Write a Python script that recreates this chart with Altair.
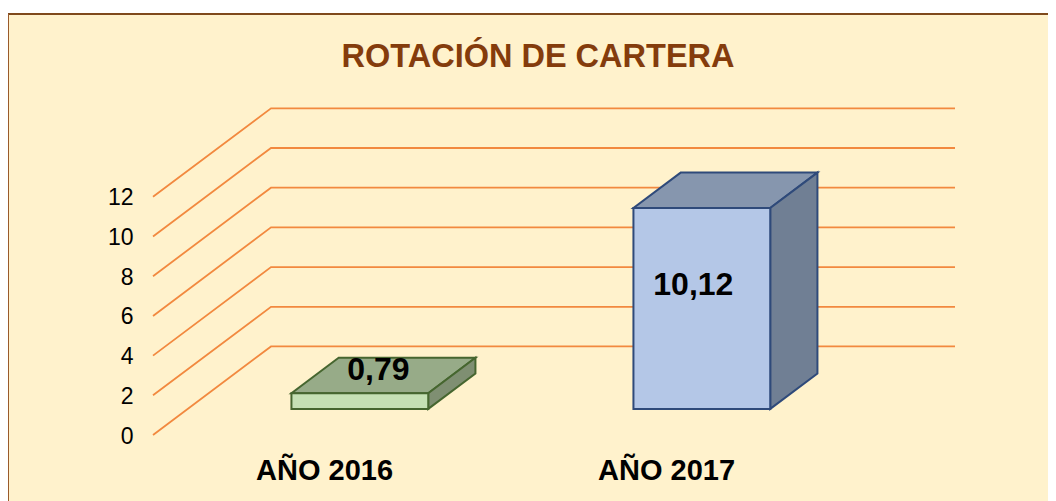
import altair as alt
import pandas as pd

# ---- chart values ----
TITLE = "ROTACIÓN DE CARTERA"
CATEGORIES = ["AÑO 2016", "AÑO 2017"]
VALUES = [0.79, 10.12]
VALUE_LABELS = ["0,79", "10,12"]
GRID_VALUES = [0, 2, 4, 6, 8, 10, 12]

# ---- pseudo-3D projection (category units, value units) ----
W, H = 1040, 487
X_MIN = -0.424
X_DOMAIN = [X_MIN, X_MIN + W / 342]
Y_DOMAIN = [-3.325, 21.21]
DEPTH_X = 0.345      # full floor depth in category units
DEPTH_Y = 4.46       # full floor depth in value units
BAR_D0, BAR_D1 = 0.295, 0.695
BAR_W = 0.40
BAR_SHIFT = 0.003


def proj(cx, v, d):
    return cx + d * DEPTH_X, v + d * DEPTH_Y


grid_rows = []
for g in GRID_VALUES:
    for k, (cx, d) in enumerate([(0, 0), (0, 1), (2, 1)]):
        X, Y = proj(cx, g, d)
        grid_rows.append({"g": g, "k": k, "X": X, "Y": Y})
grid_df = pd.DataFrame(grid_rows)

STY = [
    dict(front="#C5E0B4", top="#97AB88", side="#7F8F72", line="#46662F"),
    dict(front="#B4C7E7", top="#8696AE", side="#707F94", line="#2F4A7A"),
]

top_rows, side_rows, front_rows = [], [], []
for i, (c, v) in enumerate(zip(CATEGORIES, VALUES)):
    cx0 = i + 0.5 - BAR_W / 2 + BAR_SHIFT
    cx1 = i + 0.5 + BAR_W / 2 + BAR_SHIFT
    s = STY[i]
    for d in (BAR_D0, BAR_D1):
        xa, y = proj(cx0, v, d)
        xb, _ = proj(cx1, v, d)
        top_rows.append({"bar": c, "X": xa, "X2": xb, "Y": y, "fill": s["top"], "line": s["line"]})
    for d in (BAR_D0, BAR_D1):
        xs, yb = proj(cx1, 0, d)
        _, yt = proj(cx1, v, d)
        side_rows.append({"bar": c, "X": xs, "Y": yb, "Y2": yt, "fill": s["side"], "line": s["line"]})
    xa, yb = proj(cx0, 0, BAR_D0)
    xb, yt = proj(cx1, v, BAR_D0)
    front_rows.append({"bar": c, "X": xa, "X2": xb, "Y": yb, "Y2": yt, "fill": s["front"], "line": s["line"],
                       "label": VALUE_LABELS[i], "Xc": (xa + xb) / 2})

top_df = pd.DataFrame(top_rows)
side_df = pd.DataFrame(side_rows)
front_df = pd.DataFrame(front_rows)

XS = alt.Scale(domain=X_DOMAIN, nice=False, zero=False)
YS = alt.Scale(domain=Y_DOMAIN, nice=False, zero=False)

label_expr = "datum.value < 1 ? '%s' : '%s'" % (CATEGORIES[0], CATEGORIES[1])
x_axis = alt.Axis(values=[0.5, 1.5], labelExpr=label_expr, domain=False, ticks=False, grid=False,
                  title=None, orient="bottom", offset=-45, labelPadding=0, labelFontSize=29,
                  labelFontWeight="bold", labelFont="Liberation Sans", labelColor="#000000",
                  labelBaseline="top", labelAngle=0)
y_axis = alt.Axis(values=GRID_VALUES, domain=False, ticks=False, grid=False, title=None,
                  orient="left", offset=-125, labelPadding=0, labelFontSize=23, labelOffset=1,
                  labelFont="Liberation Sans", labelColor="#000000", format="d")

ENC_X = alt.X("X:Q", scale=XS, axis=x_axis, title=None)
ENC_Y = alt.Y("Y:Q", scale=YS, axis=y_axis, title=None)

grid = alt.Chart(grid_df).mark_line(color="#F2893F", strokeWidth=1.8).encode(
    x=ENC_X, y=ENC_Y, detail="g:N", order="k:Q",
)


def bar_layers(i):
    c = CATEGORIES[i]
    flt = alt.datum.bar == c
    top = alt.Chart(top_df).transform_filter(flt).mark_area(orient="horizontal", strokeWidth=2).encode(
        x=ENC_X, x2="X2:Q", y=ENC_Y,
        fill=alt.Fill("fill:N", scale=None), stroke=alt.Stroke("line:N", scale=None),
    )
    side = alt.Chart(side_df).transform_filter(flt).mark_area(orient="vertical", strokeWidth=2).encode(
        x=ENC_X, y=ENC_Y, y2="Y2:Q",
        fill=alt.Fill("fill:N", scale=None), stroke=alt.Stroke("line:N", scale=None),
    )
    front = alt.Chart(front_df).transform_filter(flt).mark_rect(strokeWidth=2).encode(
        x=ENC_X, x2="X2:Q", y=ENC_Y, y2="Y2:Q",
        fill=alt.Fill("fill:N", scale=None), stroke=alt.Stroke("line:N", scale=None),
    )
    return [top, side, front]


def value_text(i, dx, dy):
    return alt.Chart(front_df).transform_filter(alt.datum.bar == CATEGORIES[i]).mark_text(
        font="Liberation Sans", fontSize=32, fontWeight="bold", color="#000000",
        dx=dx, dy=dy, align="center", baseline="middle",
    ).encode(x=alt.X("Xc:Q", scale=XS, axis=x_axis, title=None),
             y=alt.Y("Y2:Q", scale=YS, axis=y_axis, title=None), text="label:N")


top_edge = alt.Chart(pd.DataFrame({"Y": [Y_DOMAIN[1]]})).mark_rule(color="#7F4A1C", strokeWidth=2).encode(
    y=alt.Y("Y:Q", scale=YS, axis=y_axis, title=None))
left_edge = alt.Chart(pd.DataFrame({"X": [X_DOMAIN[0]]})).mark_rule(color="#9A5A2A", strokeWidth=2).encode(
    x=alt.X("X:Q", scale=XS, axis=x_axis, title=None))

chart = alt.layer(
    grid,
    *bar_layers(0),
    *bar_layers(1),
    value_text(0, 18.5, -23),
    value_text(1, -8.5, 77),
    top_edge,
    left_edge,
).properties(
    width=W,
    height=H,
    background="#FFFFFF",
    padding={"left": 0, "top": 6, "right": 0, "bottom": 0},
    autosize=alt.AutoSizeParams(type="none"),
    title=alt.TitleParams(TITLE, anchor="middle", offset=-60, dx=10, fontSize=32.5, fontWeight="bold",
                          font="Liberation Sans", color="#843C0C"),
).configure_view(fill="#FFF2CC", stroke=None)

chart.save("out.html", embed_options={"renderer": "svg", "actions": False})
